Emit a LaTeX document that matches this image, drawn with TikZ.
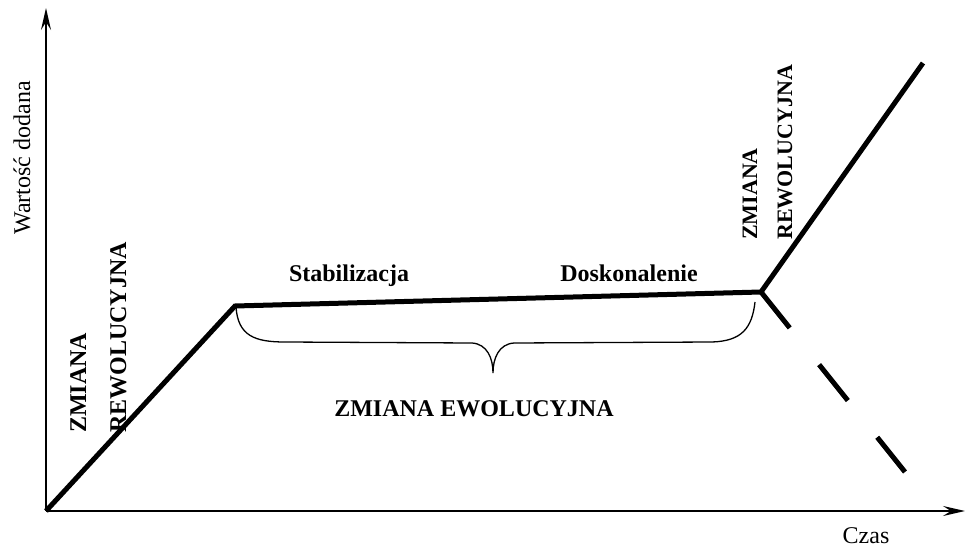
\documentclass[tikz,border=0pt]{standalone}
\usepackage{fontspec}
\setmainfont{Liberation Serif}
\usetikzlibrary{arrows.meta}
\begin{document}
\begin{tikzpicture}[x=1pt,y=-1pt,
  axis/.style={line width=2pt, -{Stealth[length=22pt,width=10pt,inset=8pt]}},
  curve/.style={line width=5pt, line cap=butt, line join=miter},
  dashcurve/.style={curve, dash pattern=on 46pt off 47pt},
  bracestyle/.style={line width=1.3pt},
  lbl/.style={font=\fontsize{24}{28}\selectfont, inner sep=0pt},
  blbl/.style={font=\fontsize{24}{28}\selectfont\bfseries, inner sep=0pt},
  sblbl/.style={font=\fontsize{22}{26}\selectfont\bfseries, inner sep=0pt},
]
\useasboundingbox (0,0) rectangle (966,548);
\coordinate (O) at (46,511);
\coordinate (Ytip) at (46,8);
\coordinate (Xtip) at (965,511);
\coordinate (A) at (235,306);
\coordinate (B) at (761,292);
\coordinate (C) at (923,63);
\coordinate (D) at (905,472);
\coordinate (Bl) at (236,307);
\coordinate (Br) at (755,302);
\coordinate (Bm) at (493,373);
\draw[axis] (O) -- (Ytip);
\draw[axis] (O) -- (Xtip);
\draw[curve] (O) -- (A) -- (B) -- (C);
\draw[dashcurve] (B) -- (D);
\draw[bracestyle] (Bl) .. controls (238,336) and (255,342) .. (285,342) -- (472,343)
  .. controls (487,344) and (493,358) .. (Bm)
  .. controls (493,358) and (499,344) .. (514,343) -- (712,342)
  .. controls (742,341) and (752,328) .. (Br);
\node[lbl, rotate=90] (ylab) at (22,158) {Wartość dodana};
\node[lbl, anchor=base] (xlab) at (866,543) {Czas};
\node[blbl, anchor=base] (stab) at (349,281) {Stabilizacja};
\node[blbl, anchor=base] (dosk) at (629,281) {Doskonalenie};
\node[blbl, anchor=base] (evo) at (474,416) {ZMIANA EWOLUCYJNA};
\node[blbl, rotate=90, anchor=base west] (l1) at (86,433) {ZMIANA};
\node[blbl, rotate=90, anchor=base west] (l2) at (126,433) {REWOLUCYJNA};
\node[sblbl, rotate=90, anchor=base west] (r1) at (757,240) {ZMIANA};
\node[sblbl, rotate=90, anchor=base west] (r2) at (792,240) {REWOLUCYJNA};
\end{tikzpicture}
\end{document}
